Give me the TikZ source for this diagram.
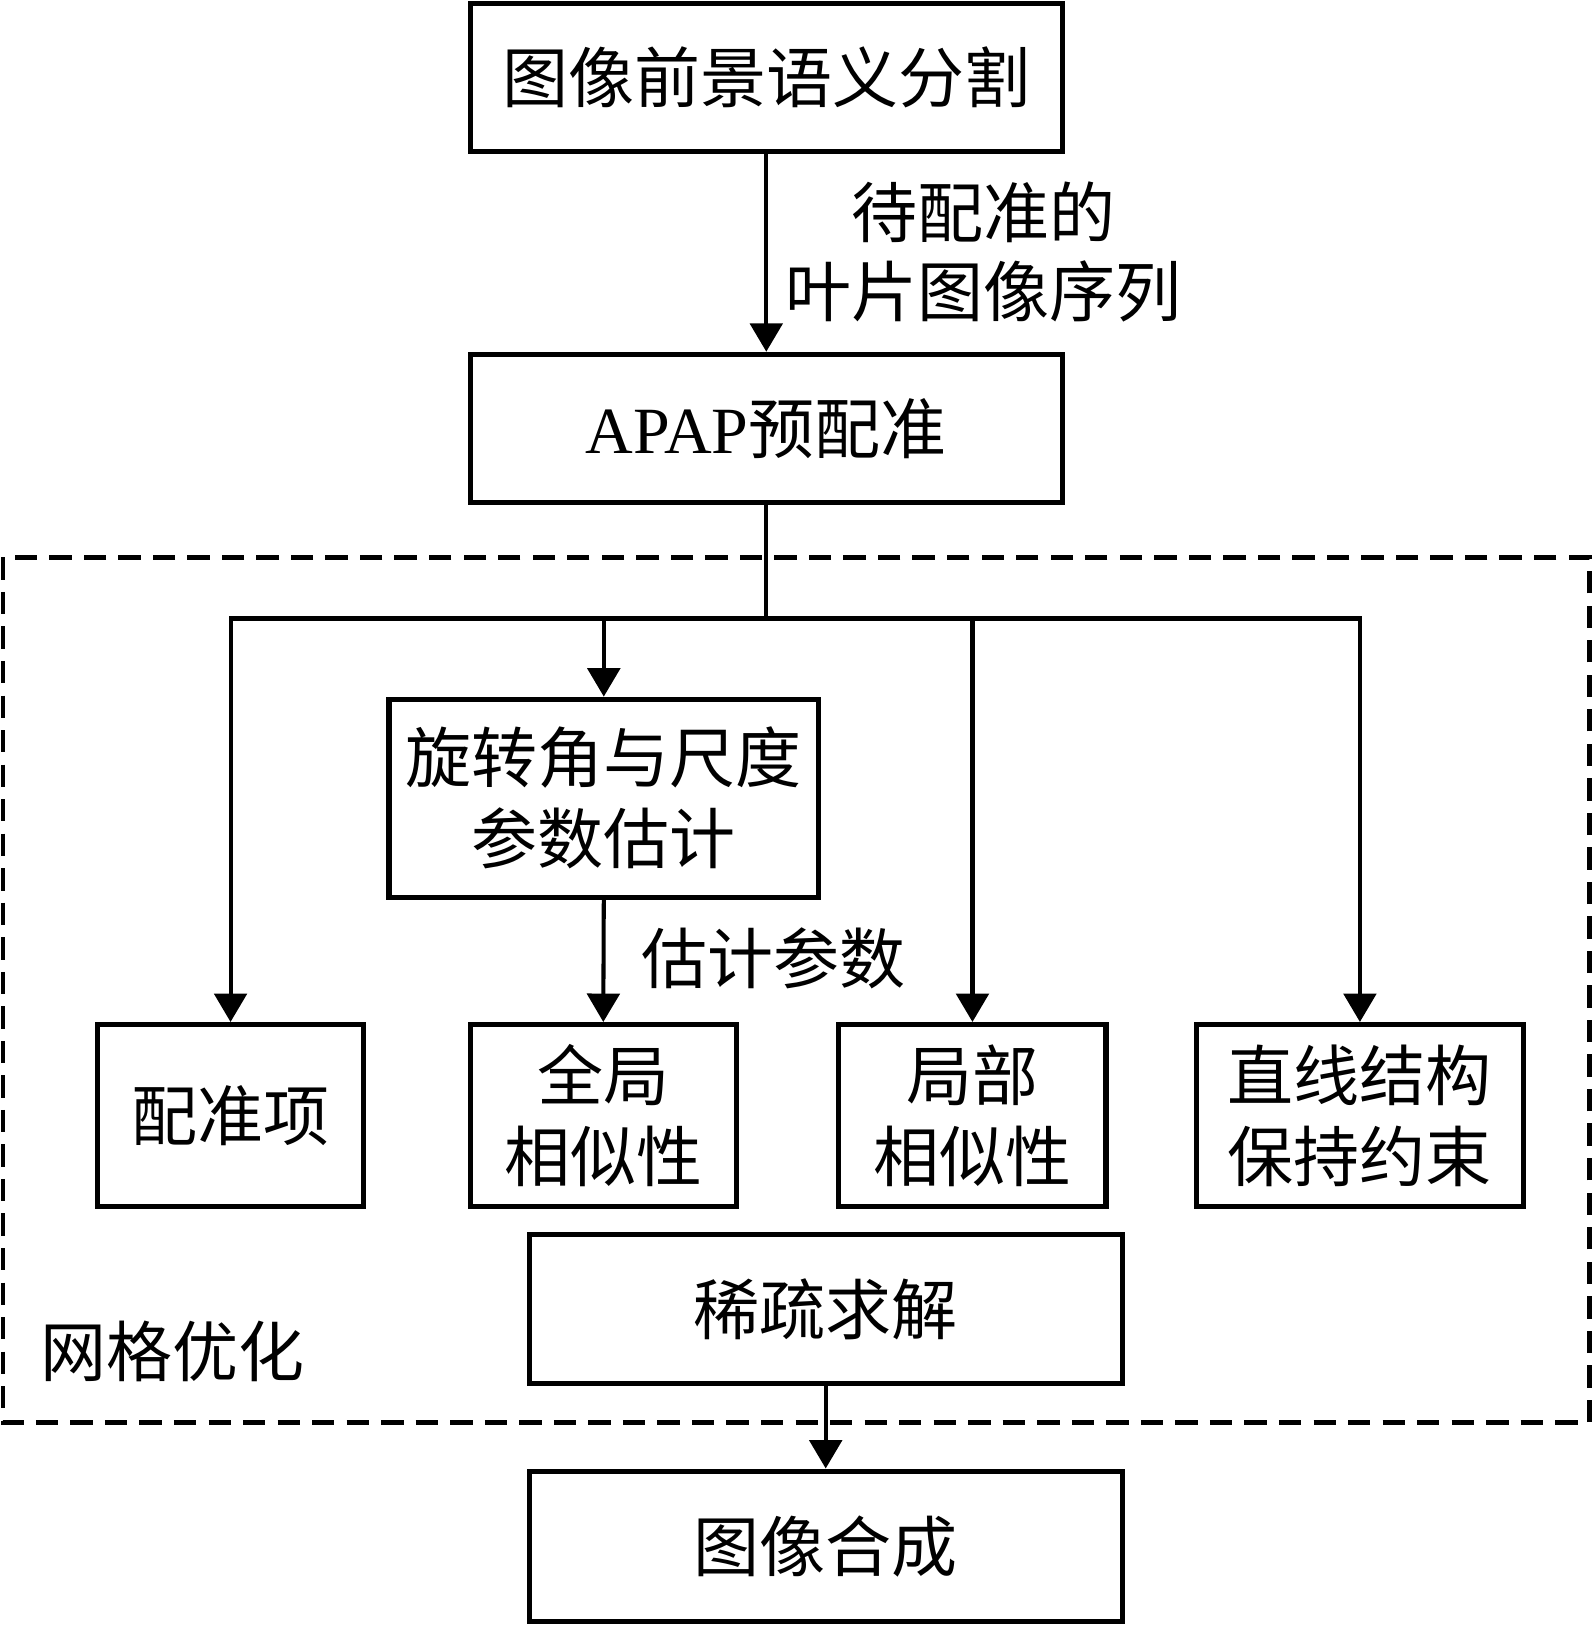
\documentclass[tikz,border=0pt]{standalone}
\usepackage{fontspec}
\setmainfont{Liberation Serif}
\newfontfamily\cjk{Noto Sans CJK SC}
\usetikzlibrary{arrows.meta}
\begin{document}
\begin{tikzpicture}[x=1pt,y=-1pt,
  box/.style={draw, line width=5pt, inner sep=0pt, align=center, font=\cjk\fontsize{65}{79.5}\selectfont},
  lbl/.style={inner sep=0pt, align=center, font=\cjk\fontsize{65}{77.5}\selectfont},
  conn/.style={line width=4pt},
  arr/.style={line width=4pt, -{Triangle[length=28pt,width=32pt]}},
  region/.style={line width=4.5pt, dash pattern=on 22pt off 12pt}]
\useasboundingbox (0,0) rectangle (1568,1600);
% region
\draw[region] (3,548.8) rectangle (1565,1400.5);
% nodes
\node[box, minimum width=583pt, minimum height=146pt] (seg) at (754.5,76) {图像前景语义分割};
\node[box, minimum width=583pt, minimum height=146pt] (apap) at (754.5,421.8) {{\rmfamily APAP}预配准};
\node[box, minimum width=423pt, minimum height=195pt] (rot) at (594.5,785.9) {旋转角与尺度\\参数估计};
\node[box, minimum width=262pt, minimum height=179.5pt] (reg) at (227,1098.5) {配准项};
\node[box, minimum width=262pt, minimum height=179.5pt] (glob) at (594,1098.5) {全局\\相似性};
\node[box, minimum width=263pt, minimum height=179.5pt] (loc) at (957.5,1098.5) {局部\\相似性};
\node[box, minimum width=322pt, minimum height=179.5pt] (line) at (1339,1098.5) {直线结构\\保持约束};
\node[box, minimum width=584pt, minimum height=146pt] (sparse) at (813,1288.8) {稀疏求解};
\node[box, minimum width=584pt, minimum height=148pt] (comp) at (813,1522.4) {图像合成};
% labels
\node[lbl] (l1) at (968,247.9) {待配准的\\叶片图像序列};
\node[lbl] (l2) at (762,943.5) {估计参数};
\node[lbl] (l3) at (170,1331) {网格优化};
% connectors
\coordinate (j) at (apap.south |- 0,609);
\draw[arr] (seg.south) -- (apap.north);
\draw[conn] (apap.south) -- (j);
\draw[arr] (j) -| (reg.north);
\draw[arr] (j) -| (rot.north);
\draw[arr] (j) -| (loc.north);
\draw[arr] (j) -| (line.north);
\draw[arr] (rot.south) -- (glob.north);
\draw[arr] (sparse.south) -- (comp.north);
\end{tikzpicture}
\end{document}
